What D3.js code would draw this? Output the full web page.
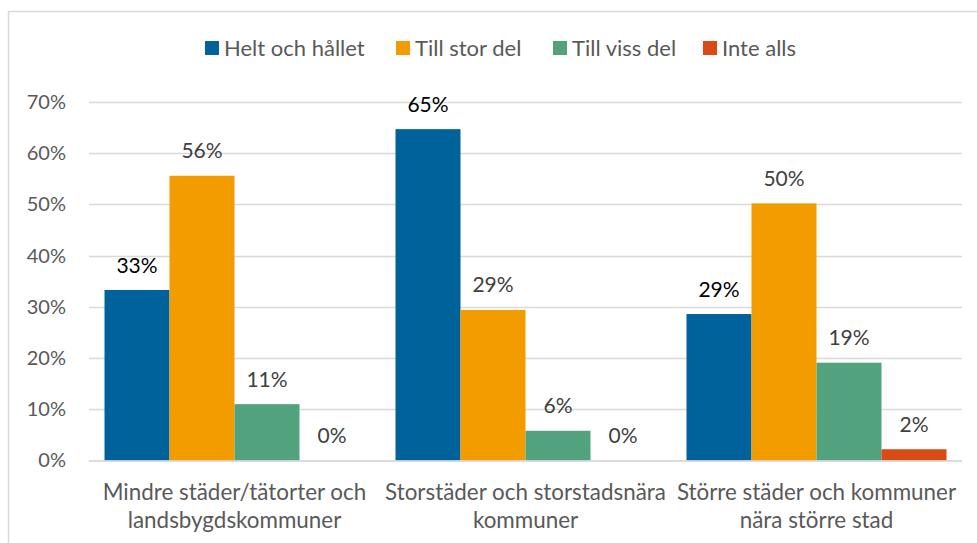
<!DOCTYPE html>
<html>
<head>
<meta charset="utf-8">
<script src="https://cdn.jsdelivr.net/npm/d3@7"></script>
<style>
  body { margin: 0; background: #fff; }
  svg text { font-family: Lato, "Open Sans", sans-serif; }
</style>
</head>
<body>
<script>
// data
var categories = ["Mindre städer/tätorter och\nlandsbygdskommuner",
                  "Storstäder och storstadsnära\nkommuner",
                  "Större städer och kommuner\nnära större stad"];
var series = ["Helt och hållet", "Till stor del", "Till viss del", "Inte alls"];
var colors = ["#00629b", "#f39c00", "#52a37d", "#d84b14"];
var helt   = [0.333, 0.647, 0.286];
var stor   = [0.556, 0.294, 0.502];
var viss   = [0.110, 0.058, 0.191];
var inte   = [0.000, 0.000, 0.022];
var yTicks = [0, 0.1, 0.2, 0.3, 0.4, 0.5, 0.6, 0.7];

var values = [helt, stor, viss, inte];

var width = 977, height = 543;
var plot = {left: 89, right: 962, top: 102, bottom: 460.5};

var svg = d3.select("body").append("svg")
  .attr("width", width)
  .attr("height", height);

// chart frame (right and bottom edges fall outside the picture)
svg.append("rect")
  .attr("x", 8.5).attr("y", 11.5)
  .attr("width", 1000).attr("height", 600)
  .attr("fill", "#fff")
  .attr("stroke", "#d9d9d9")
  .attr("stroke-width", 1.5);

var x0 = d3.scaleBand()
  .domain(d3.range(categories.length))
  .range([plot.left, plot.right]);

var x1 = d3.scaleBand()
  .domain(d3.range(series.length))
  .range([15.5, x0.bandwidth() - 15.5]);

var y = d3.scaleLinear()
  .domain([0, 0.7])
  .range([plot.bottom, plot.top]);

// gridlines
svg.append("g")
  .selectAll("line")
  .data(yTicks.slice(1))
  .enter().append("line")
  .attr("x1", plot.left).attr("x2", plot.right)
  .attr("y1", function(d) { return Math.round(y(d)) + 0.5; })
  .attr("y2", function(d) { return Math.round(y(d)) + 0.5; })
  .attr("stroke", "#d9d9d9")
  .attr("stroke-width", 1.3);

// y axis labels
var yAxis = d3.axisLeft(y)
  .tickValues(yTicks)
  .tickFormat(d3.format(".0%"))
  .tickSize(0)
  .tickPadding(23);

var gy = svg.append("g")
  .attr("transform", "translate(" + plot.left + ",0)")
  .call(yAxis);
gy.select(".domain").remove();
gy.selectAll("text")
  .attr("fill", "#595959")
  .style("font-size", "20px");

// bars
var groups = svg.append("g")
  .selectAll("g")
  .data(series)
  .enter().append("g")
  .attr("fill", function(d, i) { return colors[i]; });

groups.each(function(s, si) {
  var g = d3.select(this);
  g.selectAll("rect")
    .data(values[si])
    .enter().append("rect")
    .attr("x", function(d, ci) { return x0(ci) + x1(si); })
    .attr("y", function(d) { return y(d); })
    .attr("width", x1.bandwidth())
    .attr("height", function(d) { return plot.bottom - y(d); });

  g.selectAll("text")
    .data(values[si])
    .enter().append("text")
    .attr("x", function(d, ci) { return x0(ci) + x1(si) + x1.bandwidth() / 2; })
    .attr("y", function(d) { return y(d) - 25; })
    .attr("dy", "0.36em")
    .attr("text-anchor", "middle")
    .attr("fill", si == 0 ? "#000" : "#404040")
    .style("font-size", "21px")
    .text(function(d) { return d3.format(".0%")(d); });
});

// baseline
svg.append("line")
  .attr("x1", plot.left).attr("x2", plot.right)
  .attr("y1", plot.bottom + 0.5).attr("y2", plot.bottom + 0.5)
  .attr("stroke", "#d0d0d0")
  .attr("stroke-width", 1.5);

// category labels
var cat = svg.append("g")
  .selectAll("text")
  .data(categories)
  .enter().append("text")
  .attr("text-anchor", "middle")
  .attr("fill", "#595959")
  .style("font-size", "22.4px");

cat.each(function(d, i) {
  var lines = d.split("\n");
  d3.select(this).selectAll("tspan")
    .data(lines)
    .enter().append("tspan")
    .attr("x", x0(i) + x0.bandwidth() / 2)
    .attr("y", function(l, j) { return 492 + j * 28; })
    .attr("dy", "0.36em")
    .text(function(l) { return l; });
});

// legend
var legendX = [205, 396, 553, 703];
var legend = svg.append("g")
  .selectAll("g")
  .data(series)
  .enter().append("g")
  .attr("transform", function(d, i) { return "translate(" + legendX[i] + ",48)"; });

legend.append("rect")
  .attr("x", 0).attr("y", -7)
  .attr("width", 14).attr("height", 14)
  .attr("fill", function(d, i) { return colors[i]; });

legend.append("text")
  .attr("x", 19)
  .attr("dy", "0.36em")
  .attr("fill", "#595959")
  .style("font-size", "22px")
  .text(function(d) { return d; });
</script>
</body>
</html>
